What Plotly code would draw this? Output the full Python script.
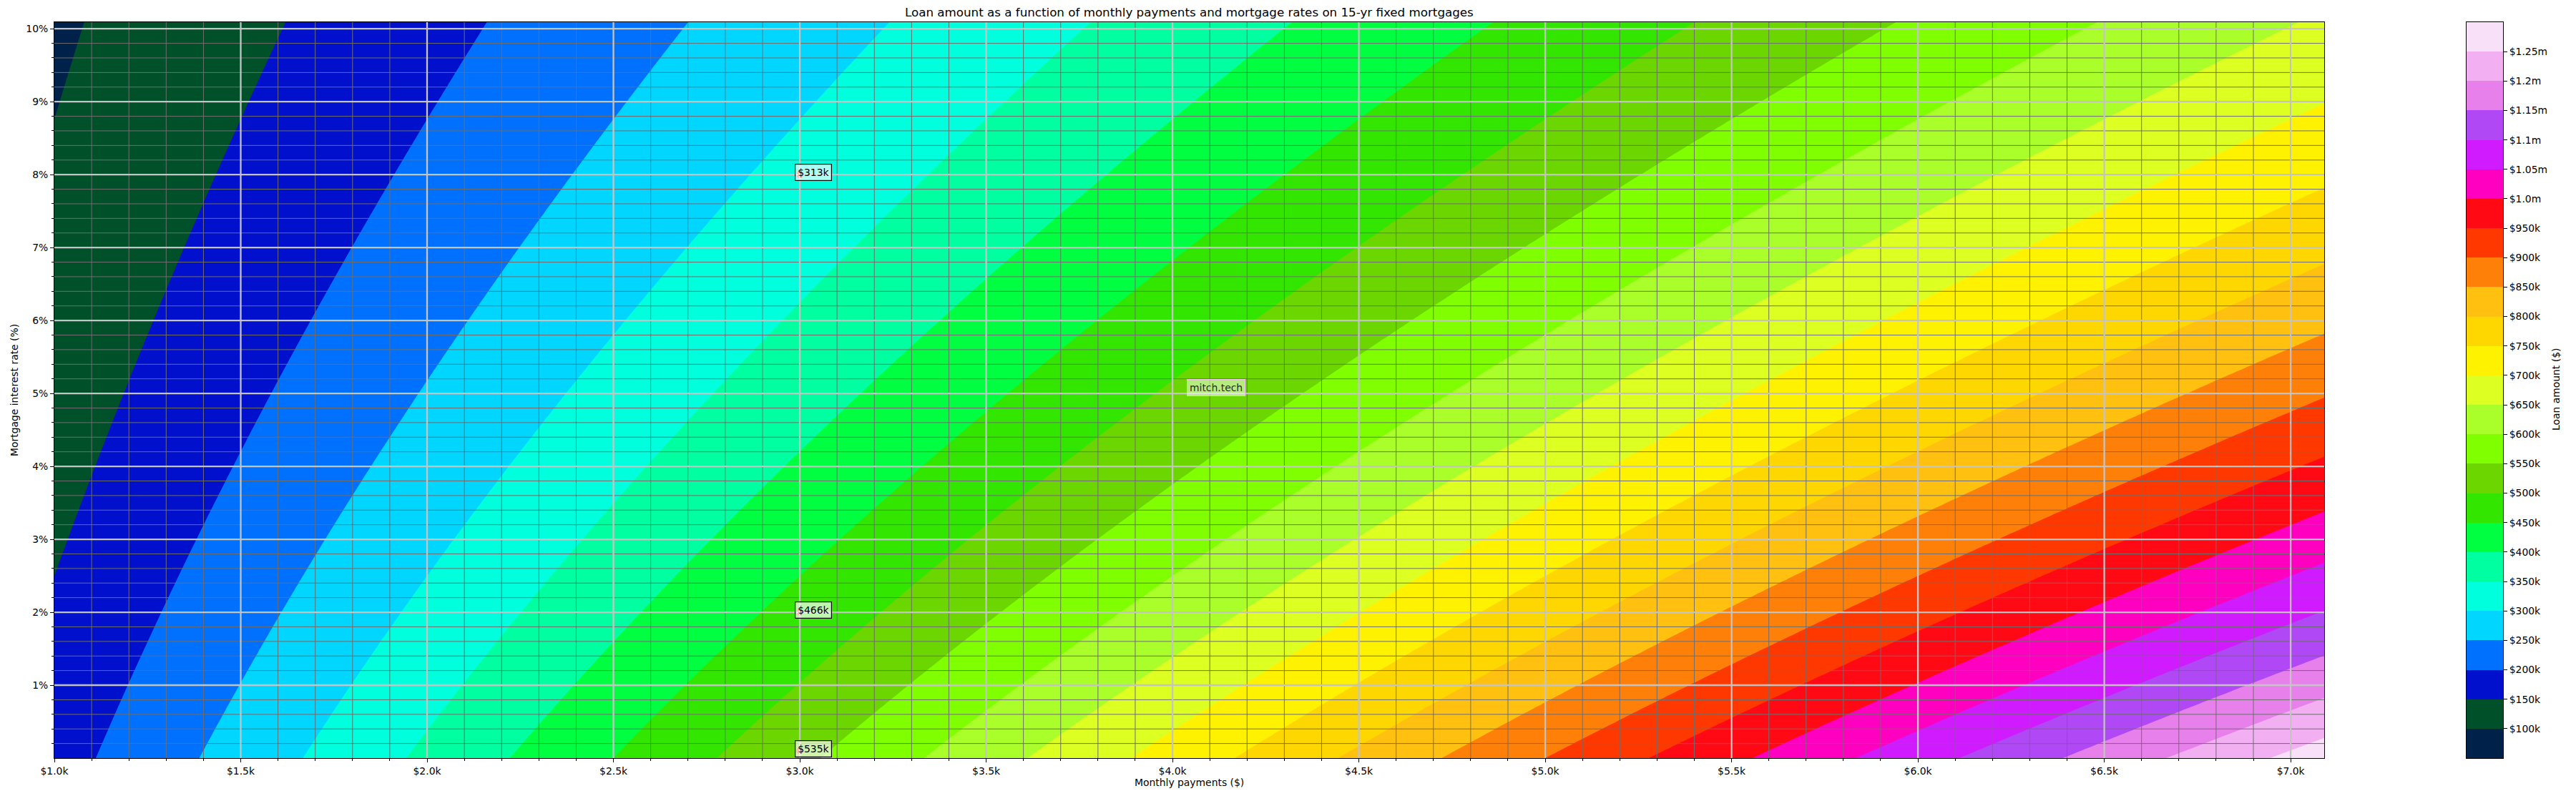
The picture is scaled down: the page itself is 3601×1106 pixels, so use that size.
import numpy as np
import plotly.graph_objects as go

# ---------------- data ----------------
TERM_MONTHS = 15 * 12
payments = np.arange(1000, 7100, 10)                 # monthly payment grid ($)
rates = np.round(np.arange(0.0, 10.15, 0.05), 2)     # annual interest rate grid (%)

levels = list(range(50000, 1300001, 50000))          # colour band edges ($)
band_colors = [
    "#002149", "#00502a", "#0010cc", "#0070ff", "#00d6ff",
    "#00ffdd", "#00ffa0", "#00ff40", "#33e600", "#6cd600",
    "#80ff00", "#aaff2a", "#ddff22", "#fff200", "#ffd700",
    "#ffc010", "#ff8008", "#ff3800", "#ff0a14", "#ff00c0",
    "#d01aff", "#b048f5", "#e880ec", "#f2b0f2", "#f8e0f8",
]
x_major = list(range(1000, 7001, 500))
x_minor = [v for v in range(1100, 7001, 100) if v % 500]
y_major = list(range(1, 11))
y_minor = [round(v, 1) for v in np.arange(0.2, 10.01, 0.2) if abs(v - round(v)) > 1e-6]
cbar_ticks = list(range(100000, 1250001, 50000))

ann_payments = [3000, 3000, 3000]
ann_rates = [8.0, 2.0, 0.1]


def loan_amount(payment, rate_pct, n=TERM_MONTHS):
    r = np.asarray(rate_pct, dtype=float) / 100.0 / 12.0
    with np.errstate(divide="ignore", invalid="ignore"):
        f = np.where(r == 0, n, (1 - (1 + r) ** (-n)) / np.where(r == 0, 1, r))
    return payment * f


Z = np.round(loan_amount(payments[None, :], rates[:, None]))

# ---------------- layout geometry ----------------
W, H = 3601, 1106
ML, MR, MT, MB = 76, 102, 30, 46
PW, PH = W - ML - MR, H - MT - MB


def px_x(p):
    return (p - ML) / PW


def px_y(p):
    return (H - MB - p) / PH


FONT = "DejaVu Sans"
FS = 13.9

n_bands = len(band_colors)
colorscale = [[i / (n_bands - 1), c] for i, c in enumerate(band_colors)]

fig = go.Figure()

fig.add_trace(go.Contour(
    x=payments, y=rates, z=Z,
    autocontour=False,
    contours=dict(start=levels[1], end=levels[-2], size=levels[1] - levels[0],
                  coloring="fill", showlines=False),
    colorscale=colorscale, showscale=False, line=dict(width=0),
    hoverinfo="skip", xaxis="x", yaxis="y",
))

# annotated points
ann_vals = loan_amount(np.array(ann_payments, float), np.array(ann_rates, float))
fig.add_trace(go.Scatter(
    x=ann_payments, y=ann_rates, mode="markers",
    marker=dict(size=10, color="rgb(255,40,40)"),
    hoverinfo="skip", showlegend=False, cliponaxis=False, xaxis="x", yaxis="y",
))

# colour bar drawn as a heatmap on its own axes
fig.add_trace(go.Heatmap(
    x=[0, 1], y=levels, z=[[i] for i in range(n_bands)],
    colorscale=colorscale, zmin=0, zmax=n_bands - 1, showscale=False,
    hoverinfo="skip", xaxis="x3", yaxis="y3",
))

shapes = []
for v in x_minor:
    shapes.append(dict(type="line", xref="x", yref="y domain", x0=v, x1=v, y0=0, y1=1,
                       line=dict(color="#6e6e6e", width=1), layer="above"))
for v in y_minor:
    shapes.append(dict(type="line", xref="x domain", yref="y", x0=0, x1=1, y0=v, y1=v,
                       line=dict(color="#6e6e6e", width=1), layer="above"))
for v in x_major[1:]:
    shapes.append(dict(type="line", xref="x", yref="y domain", x0=v, x1=v, y0=0, y1=1,
                       line=dict(color="#c4c4c4", width=2.3), layer="above"))
for v in y_major:
    shapes.append(dict(type="line", xref="x domain", yref="y", x0=0, x1=1, y0=v, y1=v,
                       line=dict(color="#c4c4c4", width=2.3), layer="above"))

annotations = []
for xp, yr, val in zip(ann_payments, ann_rates, ann_vals):
    annotations.append(dict(
        x=xp, y=yr, xref="x", yref="y", text=f"${int(val // 1000)}k",
        showarrow=False, xanchor="left", yanchor="bottom", xshift=-7, yshift=-9,
        bgcolor="rgba(255,255,255,0.68)", bordercolor="black", borderwidth=1.2,
        borderpad=3, font=dict(family=FONT, size=FS, color="black"),
    ))

annotations += [
    dict(x=px_x(1700), y=px_y(541.5), xref="paper", yref="paper", text="mitch.tech",
         showarrow=False, xanchor="center", yanchor="middle",
         bgcolor="rgba(255,255,255,0.5)", bordercolor="#f2c2f2", borderwidth=1,
         borderpad=3, font=dict(family=FONT, size=FS, color="rgba(0,0,0,0.85)")),
    dict(x=px_x(1662), y=px_y(16.5), xref="paper", yref="paper",
         text="Loan amount as a function of monthly payments and mortgage rates on 15-yr fixed mortgages",
         showarrow=False, xanchor="center", yanchor="middle",
         font=dict(family=FONT, size=16.7, color="black")),
    dict(x=px_x(1662), y=px_y(1094), xref="paper", yref="paper", text="Monthly payments ($)",
         showarrow=False, xanchor="center", yanchor="middle",
         font=dict(family=FONT, size=FS, color="black")),
    dict(x=px_x(20), y=px_y(546), xref="paper", yref="paper", text="Mortgage interest rate (%)",
         showarrow=False, xanchor="center", yanchor="middle", textangle=-90,
         font=dict(family=FONT, size=FS, color="black")),
    dict(x=px_x(3573), y=px_y(545), xref="paper", yref="paper", text="Loan amount ($)",
         showarrow=False, xanchor="center", yanchor="middle", textangle=-90,
         font=dict(family=FONT, size=FS, color="black")),
]

tickfont = dict(family=FONT, size=FS, color="black")

fig.update_layout(
    width=W, height=H,
    margin=dict(l=ML, r=MR, t=MT, b=MB, pad=0),
    paper_bgcolor="white", plot_bgcolor="white",
    showlegend=False, hovermode=False,
    shapes=shapes, annotations=annotations,
    xaxis=dict(
        domain=[0, px_x(3249)], range=[1000, 7090], anchor="y",
        tickvals=x_major, ticktext=[f"${v / 1000:.1f}k" for v in x_major],
        ticks="outside", ticklen=5, tickwidth=1, tickcolor="black",
        minor=dict(tickvals=x_minor, ticks="outside", ticklen=3, tickwidth=1,
                   tickcolor="black", showgrid=False),
        showgrid=False, zeroline=False, showline=True, mirror=True,
        linecolor="black", linewidth=1, tickfont=tickfont,
    ),
    yaxis=dict(
        domain=[0, px_y(31)], range=[0, 10.09], anchor="x",
        tickvals=y_major, ticktext=[f"{v}%" for v in y_major],
        ticks="outside", ticklen=5, tickwidth=1, tickcolor="black",
        minor=dict(tickvals=y_minor, ticks="outside", ticklen=3, tickwidth=1,
                   tickcolor="black", showgrid=False),
        showgrid=False, zeroline=False, showline=True, mirror=True,
        linecolor="black", linewidth=1, tickfont=tickfont,
    ),
    xaxis3=dict(
        domain=[px_x(3448), px_x(3499)], range=[0, 1], anchor="y3",
        showticklabels=False, ticks="", showgrid=False, zeroline=False,
        showline=True, mirror=True, linecolor="black", linewidth=1,
    ),
    yaxis3=dict(
        domain=[0, px_y(31)], range=[levels[0], levels[-1]], anchor="x3",
        side="right", tickvals=cbar_ticks,
        ticktext=[f"${v // 1000}k" if v < 1000000 else f"${v / 1e6}m" for v in cbar_ticks],
        ticks="outside", ticklen=5, tickwidth=1, tickcolor="black",
        showgrid=False, zeroline=False, showline=True, mirror=True,
        linecolor="black", linewidth=1, tickfont=tickfont,
    ),
)

fig.write_html(
    "out.html",
    config={"displayModeBar": False},
    post_script="document.body.style.margin='0px';document.body.style.overflow='hidden';",
)
